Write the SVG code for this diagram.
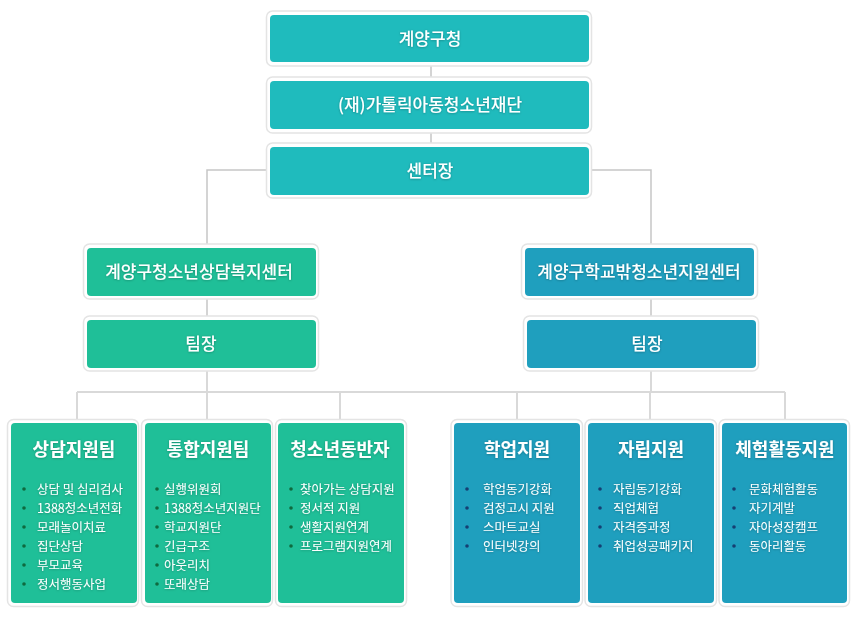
<svg xmlns="http://www.w3.org/2000/svg" width="859" height="617" viewBox="0 0 859 617">
<defs>
<filter id="sh" x="-10%" y="-30%" width="120%" height="160%">
<feDropShadow dx="0" dy="0.5" stdDeviation="1" flood-color="#000" flood-opacity="0.3"/>
</filter>
<style>
.frame{fill:#fff;stroke:#e4e4e4;stroke-width:1.5}
.teal{fill:#1fbbbd}
.green{fill:#1fbf98}
.blue{fill:#1f9fbe}
.t{font-family:"Noto Sans CJK KR","Noto Sans",sans-serif;fill:#fff;text-anchor:middle;filter:url(#sh)}
.h{font-size:17px;font-weight:500}
.ti{font-size:18px;font-weight:700}
.li{font-family:"Noto Sans CJK KR","Noto Sans",sans-serif;fill:#fff;font-size:12.5px;filter:url(#sh)}
.c1{fill:none;stroke:#c6c6c6;stroke-width:1.5}
.c2{fill:none;stroke:#d9d9d9;stroke-width:2}
.bg{fill:#0f6a3e}
.bb{fill:#163f72}
</style>
</defs>
<g id="connectors">
<path class="c1" d="M431 62V81M431 129V147M270 170H207V248M589 170H651V248M207 296V320M651 296V320"/>
<path class="c2" d="M207 368V392M651 368V392M77 392H785M77 392V423M207 392V423M340 392V423M517 392V423M650 392V423M785 392V423"/>
</g>
<g id="n1"><rect class="frame" x="266.5" y="11" width="325" height="55" rx="6"/><rect class="teal" x="270" y="15" width="319" height="47" rx="4"/><text class="t h" x="430" y="44.5">계양구청</text></g>
<g id="n2"><rect class="frame" x="266.5" y="77" width="325" height="56" rx="6"/><rect class="teal" x="270" y="81" width="319" height="48" rx="4"/><text class="t h" x="430" y="111">(재)가톨릭아동청소년재단</text></g>
<g id="n3"><rect class="frame" x="266.5" y="143" width="325" height="55" rx="6"/><rect class="teal" x="270" y="147" width="319" height="48" rx="4"/><text class="t h" x="430" y="177">센터장</text></g>
<g id="n4"><rect class="frame" x="83.5" y="244" width="235" height="55" rx="6"/><rect class="green" x="87" y="248" width="229" height="48" rx="4"/><text class="t h" x="199" y="278">계양구청소년상담복지센터</text></g>
<g id="n5"><rect class="frame" x="521.5" y="244" width="236" height="55" rx="6"/><rect class="blue" x="525" y="248" width="229" height="48" rx="4"/><text class="t h" x="639" y="278">계양구학교밖청소년지원센터</text></g>
<g id="n6"><rect class="frame" x="83.5" y="316" width="235" height="55" rx="6"/><rect class="green" x="87" y="320" width="229" height="48" rx="4"/><text class="t h" x="201" y="350">팀장</text></g>
<g id="n7"><rect class="frame" x="523.5" y="316" width="235" height="55" rx="6"/><rect class="blue" x="527" y="320" width="229" height="48" rx="4"/><text class="t h" x="647" y="350">팀장</text></g>
<g id="b1"><rect class="frame" x="7.5" y="419.5" width="131" height="187" rx="6"/><rect class="green" x="11" y="423" width="126" height="180" rx="4"/><text class="t ti" x="74" y="456">상담지원팀</text>
<circle class="bg" cx="24" cy="489" r="1.8"/><circle class="bg" cx="24" cy="508" r="1.8"/><circle class="bg" cx="24" cy="527" r="1.8"/><circle class="bg" cx="24" cy="546" r="1.8"/><circle class="bg" cx="24" cy="565" r="1.8"/><circle class="bg" cx="24" cy="584" r="1.8"/>
<text class="li" x="37" y="493.5">상담 및 심리검사</text><text class="li" x="37" y="512.5">1388청소년전화</text><text class="li" x="37" y="531.5">모래놀이치료</text><text class="li" x="37" y="550.5">집단상담</text><text class="li" x="37" y="569.5">부모교육</text><text class="li" x="37" y="588.5">정서행동사업</text></g>
<g id="b2"><rect class="frame" x="141.5" y="419.5" width="131" height="187" rx="6"/><rect class="green" x="145" y="423" width="126" height="180" rx="4"/><text class="t ti" x="208" y="456">통합지원팀</text>
<circle class="bg" cx="157" cy="489" r="1.8"/><circle class="bg" cx="157" cy="508" r="1.8"/><circle class="bg" cx="157" cy="527" r="1.8"/><circle class="bg" cx="157" cy="546" r="1.8"/><circle class="bg" cx="157" cy="565" r="1.8"/><circle class="bg" cx="157" cy="584" r="1.8"/>
<text class="li" x="164" y="493.5">실행위원회</text><text class="li" x="164" y="512.5">1388청소년지원단</text><text class="li" x="164" y="531.5">학교지원단</text><text class="li" x="164" y="550.5">긴급구조</text><text class="li" x="164" y="569.5">아웃리치</text><text class="li" x="164" y="588.5">또래상담</text></g>
<g id="b3"><rect class="frame" x="275.5" y="419.5" width="131" height="187" rx="6"/><rect class="green" x="278" y="423" width="126" height="180" rx="4"/><text class="t ti" x="340" y="456">청소년동반자</text>
<circle class="bg" cx="291" cy="489" r="1.8"/><circle class="bg" cx="291" cy="508" r="1.8"/><circle class="bg" cx="291" cy="527" r="1.8"/><circle class="bg" cx="291" cy="546" r="1.8"/>
<text class="li" x="300" y="493.5">찾아가는 상담지원</text><text class="li" x="300" y="512.5">정서적 지원</text><text class="li" x="300" y="531.5">생활지원연계</text><text class="li" x="300" y="550.5">프로그램지원연계</text></g>
<g id="b4"><rect class="frame" x="451" y="419.5" width="131.5" height="187" rx="6"/><rect class="blue" x="454" y="423" width="126" height="180" rx="4"/><text class="t ti" x="517" y="456">학업지원</text>
<circle class="bb" cx="467" cy="489" r="1.8"/><circle class="bb" cx="467" cy="508" r="1.8"/><circle class="bb" cx="467" cy="527" r="1.8"/><circle class="bb" cx="467" cy="546" r="1.8"/>
<text class="li" x="483" y="493.5">학업동기강화</text><text class="li" x="483" y="512.5">검정고시 지원</text><text class="li" x="483" y="531.5">스마트교실</text><text class="li" x="483" y="550.5">인터넷강의</text></g>
<g id="b5"><rect class="frame" x="585" y="419.5" width="131.5" height="187" rx="6"/><rect class="blue" x="588" y="423" width="126" height="180" rx="4"/><text class="t ti" x="651" y="456">자립지원</text>
<circle class="bb" cx="600" cy="489" r="1.8"/><circle class="bb" cx="600" cy="508" r="1.8"/><circle class="bb" cx="600" cy="527" r="1.8"/><circle class="bb" cx="600" cy="546" r="1.8"/>
<text class="li" x="613" y="493.5">자립동기강화</text><text class="li" x="613" y="512.5">직업체험</text><text class="li" x="613" y="531.5">자격증과정</text><text class="li" x="613" y="550.5">취업성공패키지</text></g>
<g id="b6"><rect class="frame" x="719" y="419.5" width="130.5" height="187" rx="6"/><rect class="blue" x="722" y="423" width="125" height="180" rx="4"/><text class="t ti" x="785" y="456">체험활동지원</text>
<circle class="bb" cx="734" cy="489" r="1.8"/><circle class="bb" cx="734" cy="508" r="1.8"/><circle class="bb" cx="734" cy="527" r="1.8"/><circle class="bb" cx="734" cy="546" r="1.8"/>
<text class="li" x="749" y="493.5">문화체험활동</text><text class="li" x="749" y="512.5">자기계발</text><text class="li" x="749" y="531.5">자아성장캠프</text><text class="li" x="749" y="550.5">동아리활동</text></g>
</svg>
